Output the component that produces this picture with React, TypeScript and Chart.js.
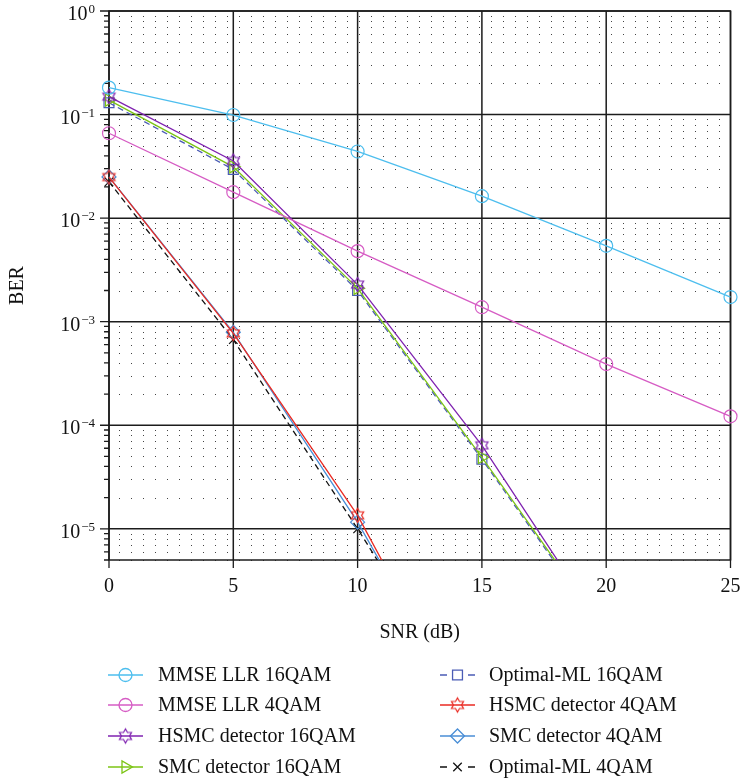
import React, { useEffect, useRef } from 'react';
import { Chart, registerables } from 'chart.js';
import { drawPoint } from 'chart.js/helpers';

Chart.register(...registerables);

// ---- data ----
const snr = [0, 5, 10, 15, 20, 25];
const mmseLlr16 = [0.182, 0.099, 0.044, 0.0163, 0.0054, 0.00173];
const mmseLlr4 = [0.066, 0.0178, 0.0048, 0.00138, 0.00039, 0.000122];
const hsmc16 = [0.149, 0.0356, 0.00228, 6.4e-5, 9.6e-7];
const smc16 = [0.138, 0.0313, 0.0021, 4.9e-5, 1.0e-6];
const optMl16 = [0.13, 0.0295, 0.002, 4.7e-5, 9.5e-7];
const hsmc4 = [0.0249, 7.7e-4, 1.35e-5, 8e-8];
const smc4 = [0.025, 7.9e-4, 1.16e-5, 9e-8];
const optMl4 = [0.0224, 6.7e-4, 1.0e-5, 1.25e-7];
const xTickValues = [0, 5, 10, 15, 20, 25];
const yDecades = [0, -1, -2, -3, -4, -5];

const FONT = '"Liberation Serif", "DejaVu Serif", serif';

type Marker = 'circle' | 'hexagram' | 'triangle' | 'rect' | 'rectRot' | 'crossRot';
interface SeriesCfg {
  label: string;
  values: number[];
  color: string;
  marker: Marker;
  dashed: boolean;
}

const seriesCfg: SeriesCfg[] = [
  { label: 'MMSE LLR 16QAM', values: mmseLlr16, color: '#4DBEEE', marker: 'circle', dashed: false },
  { label: 'MMSE LLR 4QAM', values: mmseLlr4, color: '#D65CC4', marker: 'circle', dashed: false },
  { label: 'HSMC detector 16QAM', values: hsmc16, color: '#7F22B0', marker: 'hexagram', dashed: false },
  { label: 'SMC detector 16QAM', values: smc16, color: '#7CC414', marker: 'triangle', dashed: false },
  { label: 'Optimal-ML 16QAM', values: optMl16, color: '#4B5CB5', marker: 'rect', dashed: true },
  { label: 'HSMC detector 4QAM', values: hsmc4, color: '#EA2A22', marker: 'hexagram', dashed: false },
  { label: 'SMC detector 4QAM', values: smc4, color: '#4A8ED6', marker: 'rectRot', dashed: false },
  { label: 'Optimal-ML 4QAM', values: optMl4, color: '#111111', marker: 'crossRot', dashed: true },
];

function hexagram(color: string, r: number, lw: number): HTMLCanvasElement {
  const size = Math.ceil(2 * r + 2 * lw + 2);
  const c = document.createElement('canvas');
  c.width = size;
  c.height = size;
  const g = c.getContext('2d')!;
  const cx = size / 2;
  const cy = size / 2;
  const ri = r / Math.sqrt(3);
  g.beginPath();
  for (let i = 0; i < 12; i++) {
    const ang = -Math.PI / 2 + (i * Math.PI) / 6;
    const rr = i % 2 === 0 ? r : ri;
    const px = cx + rr * Math.cos(ang);
    const py = cy + rr * Math.sin(ang);
    if (i === 0) g.moveTo(px, py);
    else g.lineTo(px, py);
  }
  g.closePath();
  g.strokeStyle = color;
  g.lineWidth = lw;
  g.stroke();
  return c;
}

function markerOpts(s: SeriesCfg) {
  switch (s.marker) {
    case 'circle':
      return { pointStyle: 'circle' as any, radius: 6.5, rotation: 0 };
    case 'hexagram':
      return { pointStyle: hexagram(s.color, 7, 1.2) as any, radius: 7, rotation: 0 };
    case 'triangle':
      return { pointStyle: 'triangle' as any, radius: 7, rotation: 90 };
    case 'rect':
      return { pointStyle: 'rect' as any, radius: 7, rotation: 0 };
    case 'rectRot':
      return { pointStyle: 'rectRot' as any, radius: 7, rotation: 0 };
    case 'crossRot':
    default:
      return { pointStyle: 'crossRot' as any, radius: 6, rotation: 0 };
  }
}

const gridPlugin = {
  id: 'berGrid',
  beforeDatasetsDraw(chart: any) {
    const { ctx, chartArea: a, scales } = chart;
    const x = scales.x;
    const y = scales.y;
    ctx.save();
    // minor dotted horizontal lines
    ctx.fillStyle = '#444';
    for (let d = -6; d <= -1; d++) {
      for (let m = 2; m <= 9; m++) {
        const v = m * Math.pow(10, d);
        if (v < y.min - 1e-12 || v > y.max) continue;
        const py = Math.round(y.getPixelForValue(v));
        for (let px = a.left + 10; px < a.right - 2; px += 12) {
          ctx.fillRect(Math.round(px), py, 1, 1);
        }
      }
    }
    // major lines
    ctx.strokeStyle = '#1c1c1c';
    ctx.lineWidth = 1.5;
    ctx.beginPath();
    for (const d of yDecades) {
      const v = Math.pow(10, d);
      if (v < y.min || v > y.max) continue;
      const py = y.getPixelForValue(v);
      ctx.moveTo(a.left, py);
      ctx.lineTo(a.right, py);
    }
    for (const t of xTickValues) {
      const px = x.getPixelForValue(t);
      ctx.moveTo(px, a.top);
      ctx.lineTo(px, a.bottom);
    }
    ctx.stroke();
    ctx.strokeRect(a.left, a.top, a.right - a.left, a.bottom - a.top);
    // tick marks (outward)
    ctx.lineWidth = 1.3;
    ctx.beginPath();
    for (let d = -6; d <= 0; d++) {
      for (let m = 1; m <= 9; m++) {
        const v = m * Math.pow(10, d);
        if (v < y.min - 1e-12 || v > y.max + 1e-12) continue;
        const py = y.getPixelForValue(v);
        const len = m === 1 ? 9 : 5;
        ctx.moveTo(a.left - len, py);
        ctx.lineTo(a.left, py);
      }
    }
    for (const t of xTickValues) {
      const px = x.getPixelForValue(t);
      ctx.moveTo(px, a.bottom);
      ctx.lineTo(px, a.bottom + 8);
    }
    ctx.stroke();
    ctx.restore();
  },
  afterDraw(chart: any) {
    // y tick labels "10^n" with a raised exponent
    const { ctx, scales } = chart;
    const y = scales.y;
    ctx.save();
    ctx.fillStyle = '#111';
    ctx.textBaseline = 'alphabetic';
    ctx.textAlign = 'left';
    const right = 95;
    for (const d of yDecades) {
      const py = y.getPixelForValue(Math.pow(10, d));
      const exp = d === 0 ? '0' : '\u2212' + String(-d);
      ctx.font = `13px ${FONT}`;
      const ew = ctx.measureText(exp).width;
      ctx.font = `20px ${FONT}`;
      const bw = ctx.measureText('10').width;
      const x0 = right - ew - bw - 1;
      ctx.fillText('10', x0, py + 9);
      ctx.font = `13px ${FONT}`;
      ctx.fillText(exp, x0 + bw + 1, py + 2);
    }
    ctx.restore();
  },
};

const legendRows = [675, 705, 736, 767];
const legendCols = [
  { x0: 108, x1: 143, tx: 158 },
  { x0: 440, x1: 475, tx: 489 },
];

const legendPlugin = {
  id: 'berLegend',
  afterDraw(chart: any) {
    const { ctx } = chart;
    ctx.save();
    chart.data.datasets.forEach((ds: any, i: number) => {
      const col = legendCols[i < 4 ? 0 : 1];
      const yy = legendRows[i % 4];
      const cx = (col.x0 + col.x1) / 2;
      ctx.strokeStyle = ds.borderColor;
      ctx.lineWidth = 1.3;
      ctx.setLineDash([]);
      ctx.beginPath();
      if (ds.borderDash && ds.borderDash.length) {
        ctx.moveTo(col.x0, yy);
        ctx.lineTo(col.x0 + 7, yy);
        ctx.moveTo(col.x1 - 7, yy);
        ctx.lineTo(col.x1, yy);
      } else {
        ctx.moveTo(col.x0, yy);
        ctx.lineTo(col.x1, yy);
      }
      ctx.stroke();
      ctx.fillStyle = 'rgba(0,0,0,0)';
      drawPoint(ctx, {
        pointStyle: ds.pointStyle,
        rotation: ds.pointRotation,
        radius: ds.pointRadius,
        borderWidth: 1.2,
      } as any, cx, yy);
      ctx.fillStyle = '#111';
      ctx.font = `20px ${FONT}`;
      ctx.textAlign = 'left';
      ctx.textBaseline = 'middle';
      ctx.fillText(ds.label, col.tx, yy + 1);
    });
    ctx.restore();
  },
};

export default function App() {
  const ref = useRef<HTMLCanvasElement>(null);
  useEffect(() => {
    document.body.style.margin = '0';
    const datasets = seriesCfg.map((s) => {
      const m = markerOpts(s);
      return {
        label: s.label,
        data: s.values.map((v, i) => ({ x: snr[i], y: v })),
        borderColor: s.color,
        backgroundColor: s.color,
        borderWidth: 1.3,
        borderDash: s.dashed ? [6, 4] : [],
        pointStyle: m.pointStyle,
        pointRadius: m.radius,
        pointRotation: m.rotation,
        pointBorderColor: s.color,
        pointBackgroundColor: 'rgba(0,0,0,0)',
        pointBorderWidth: 1.2,
        tension: 0,
        clip: { left: 12, right: 12, top: 12, bottom: 0 },
      };
    });
    const chart = new Chart(ref.current!, {
      type: 'line',
      data: { datasets } as any,
      options: {
        animation: false,
        responsive: false,
        layout: { padding: { top: 11, right: 10.5, left: 0, bottom: 137 } },
        plugins: { legend: { display: false }, tooltip: { enabled: false } },
        scales: {
          x: {
            type: 'linear',
            min: 0,
            max: 25,
            afterBuildTicks: (s: any) => {
              s.ticks = xTickValues.map((v) => ({ value: v }));
            },
            ticks: { color: '#111', font: { family: FONT, size: 20 }, padding: 15, maxRotation: 0, autoSkip: false },
            grid: { display: false, drawTicks: false },
            border: { display: false },
            title: { display: true, text: 'SNR (dB)', color: '#111', font: { family: FONT, size: 20 }, padding: { top: 0, bottom: 0 } },
            afterFit: (s: any) => {
              s.height = 85;
              s.paddingLeft = 0;
              s.paddingRight = 0;
            },
          },
          y: {
            type: 'logarithmic',
            min: 5e-6,
            max: 1,
            ticks: { display: false },
            grid: { display: false, drawTicks: false },
            border: { display: false },
            title: { display: true, text: 'BER', color: '#111', font: { family: FONT, size: 20 }, padding: { top: 6, bottom: 0 } },
            afterFit: (s: any) => {
              s.width = 109;
              s.paddingTop = 0;
              s.paddingBottom = 0;
            },
          },
        },
      } as any,
      plugins: [gridPlugin, legendPlugin],
    });
    return () => chart.destroy();
  }, []);
  return (
    <div style={{ width: 741, height: 782, overflow: 'hidden' }}>
      <canvas ref={ref} width={741} height={782} style={{ display: 'block' }} />
    </div>
  );
}
